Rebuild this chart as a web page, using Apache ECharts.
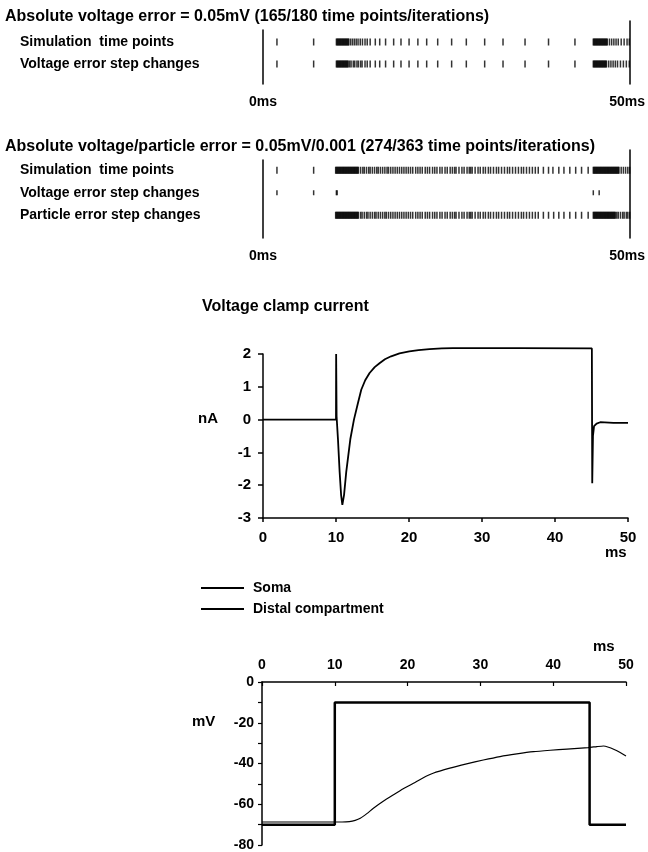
<!DOCTYPE html>
<html>
<head>
<meta charset="utf-8">
<script src="https://cdn.jsdelivr.net/npm/echarts@6/dist/echarts.min.js"></script>
<style>
  html, body { margin: 0; padding: 0; background: #fff; }
  #main { width: 648px; height: 852px; }
</style>
</head>
<body>
<div id="main"></div>
<script>
// raster 1: voltage error only
var rows1 = ['Simulation  time points', 'Voltage error step changes'];
var blk1Sim = [1.9, 6.9,
  10.0, 10.1, 10.2, 10.3, 10.4, 10.5, 10.6, 10.7, 10.8, 10.9, 11.0, 11.1, 11.2, 11.3, 11.4, 11.5, 11.6, 11.7,
  11.95, 12.2, 12.45, 12.7, 12.95, 13.25, 13.55, 13.9, 14.2,
  14.6, 15.3, 15.9, 16.7, 17.8, 18.8, 19.9, 21.1, 22.3, 23.8, 25.7, 27.7, 30.2, 32.7, 35.7, 38.9, 42.5,
  45.0, 45.1, 45.2, 45.3, 45.4, 45.5, 45.6, 45.7, 45.8, 45.9, 46.0, 46.1, 46.2, 46.3, 46.4, 46.5, 46.6, 46.7, 46.8, 46.9,
  47.2, 47.5, 47.8, 48.1, 48.4, 48.8, 49.2, 49.6, 49.9];
var blk1Volt = [1.9, 6.9,
  10.0, 10.1, 10.2, 10.3, 10.4, 10.5, 10.6, 10.7, 10.8, 10.9, 11.0, 11.1, 11.2, 11.3, 11.4, 11.5, 11.6, 11.8,
  12.0, 12.3, 12.5, 12.8, 13.0, 13.3, 13.5, 13.9, 14.2,
  14.6, 15.3, 15.9, 16.7, 17.8, 18.8, 19.9, 21.1, 22.3, 23.8, 25.7, 27.7, 30.2, 32.7, 35.7, 38.9, 42.5,
  45.0, 45.1, 45.2, 45.3, 45.4, 45.5, 45.6, 45.7, 45.8, 45.9, 46.0, 46.1, 46.2, 46.3, 46.4, 46.5, 46.6, 46.7, 46.8,
  47.1, 47.4, 47.7, 48.0, 48.3, 48.7, 49.1, 49.5, 49.9];

// raster 2: voltage + particle error
var rows2 = ['Simulation  time points', 'Voltage error step changes', 'Particle error step changes'];
var blk2Sim = [1.9, 6.9,
  9.9, 10.0, 10.1, 10.2, 10.3, 10.4, 10.5, 10.6, 10.7, 10.8, 10.9, 11.0, 11.1, 11.2, 11.3, 11.4, 11.5, 11.6,
  11.7, 11.8, 11.9, 12.0, 12.1, 12.2, 12.3, 12.4, 12.5, 12.6, 12.7, 12.8, 12.9, 13.0,
  13.3, 13.6, 13.8, 14.1, 14.4, 14.6, 14.9, 15.2, 15.5, 15.7, 16.0, 16.3, 16.6, 16.9, 17.1, 17.4, 17.7,
  18.0, 18.3, 18.6, 18.9, 19.2, 19.5, 19.8, 20.1, 20.4, 20.8, 21.1, 21.4, 21.7, 22.1, 22.4, 22.7, 23.1,
  23.4, 23.7, 24.1, 24.4, 24.8, 25.1, 25.5, 25.8, 26.1, 26.3, 26.7, 27.1, 27.4, 27.8, 28.1, 28.3, 28.5,
  28.9, 29.3, 29.6, 30.0, 30.3, 30.7, 31.0, 31.4, 31.8, 32.1, 32.5, 32.9, 33.3, 33.6, 34.0, 34.4, 34.8,
  35.2, 35.5, 35.9, 36.3, 36.7, 37.1, 37.5,
  38.2, 38.9, 39.5, 40.3, 41.0, 41.8, 42.6, 43.4, 44.3,
  45.0, 45.1, 45.2, 45.3, 45.4, 45.5, 45.6, 45.7, 45.8, 45.9, 46.0, 46.1, 46.2, 46.3, 46.4, 46.5, 46.6, 46.7,
  46.8, 46.9, 47.0, 47.1, 47.2, 47.3, 47.4, 47.5, 47.6, 47.7, 47.8, 47.9, 48.0, 48.1, 48.2, 48.3, 48.4, 48.5,
  48.8, 49.1, 49.4, 49.7, 49.95];
var blk2Volt = [1.9, 6.9, 10.0, 10.1, 45.0, 45.8];
var blk2Part = [
  9.9, 10.0, 10.1, 10.2, 10.3, 10.4, 10.5, 10.6, 10.7, 10.8, 10.9, 11.0, 11.1, 11.2, 11.3, 11.4, 11.5, 11.6,
  11.7, 11.8, 11.9, 12.0, 12.1, 12.2, 12.3, 12.4, 12.5, 12.6, 12.7, 12.8, 12.9, 13.0,
  13.3, 13.5, 13.8, 14.1, 14.3, 14.6, 14.9, 15.2, 15.4, 15.7, 16.0, 16.3, 16.6, 16.8, 17.1, 17.4, 17.7,
  18.0, 18.3, 18.6, 18.9, 19.2, 19.5, 19.8, 20.1, 20.4, 20.8, 21.1, 21.4, 21.7, 22.1, 22.4, 22.7, 23.1,
  23.4, 23.7, 24.1, 24.4, 24.8, 25.1, 25.5, 25.8, 26.1, 26.3, 26.7, 27.1, 27.4, 27.8, 28.1, 28.3, 28.5,
  28.9, 29.3, 29.6, 30.0, 30.3, 30.7, 31.0, 31.4, 31.8, 32.1, 32.5, 32.9, 33.3, 33.6, 34.0, 34.4, 34.8,
  35.2, 35.5, 35.9, 36.3, 36.7, 37.1, 37.5,
  38.2, 38.9, 39.6, 40.3, 41.0, 41.8, 42.6, 43.4, 44.3,
  45.0, 45.1, 45.2, 45.3, 45.4, 45.5, 45.6, 45.7, 45.8, 45.9, 46.0, 46.1, 46.2, 46.3, 46.4, 46.5, 46.6, 46.7,
  46.8, 46.9, 47.0, 47.1, 47.2, 47.3, 47.4, 47.5, 47.6, 47.7, 47.8, 47.9, 48.0, 48.2, 48.4,
  48.7, 49.0, 49.2, 49.5, 49.7, 49.95];

// voltage clamp current (nA)
var clampT = [0, 10, 10.02, 10.08, 10.27, 10.5, 10.7, 10.87, 11.1, 11.4, 11.96, 12.46, 13.0, 13.46, 14.0, 14.6,
  15.3, 15.96, 16.7, 17.55, 18.7, 20.05, 21.3, 22.8, 24.5, 26, 35, 45.05, 45.1, 45.2, 45.35, 45.7, 46.2, 48, 50];
var clampI = [0, 0, 2.0, 0.1, -0.6, -1.6, -2.3, -2.6, -2.3, -1.6, -0.6, 0.0, 0.5, 0.91, 1.2, 1.42,
  1.6, 1.72, 1.84, 1.93, 2.02, 2.08, 2.12, 2.15, 2.17, 2.18, 2.18, 2.17, -1.94, -0.5, -0.2, -0.12, -0.08, -0.1, -0.1];

// membrane potential (mV)
var somaT = [0, 10, 10, 45, 45, 50];
var somaV = [-70, -70, -10, -10, -70, -70];
var distalT = [0, 11, 12, 12.8, 13.5, 14.4, 15.3, 16.6, 18, 19.4, 20.8, 22.1, 23.5, 25.8, 28.1, 30.4, 32.7, 35,
  37.3, 39.6, 41.9, 44.8, 46, 46.9, 47.6, 48.3, 49.2, 50];
var distalV = [-68.7, -68.7, -68.5, -67.9, -66.9, -64.6, -62, -58.7, -55.5, -52.4, -49.7, -47.1, -44.8, -42.3,
  -40.2, -38.3, -36.6, -35.3, -34.2, -33.5, -32.9, -32.2, -31.7, -31.4, -32.0, -33.0, -34.6, -36.3];

var FONT = '"Liberation Sans", Arial, sans-serif';
function txt(size) {
  return { color: '#000', fontWeight: 'bold', fontSize: size, fontFamily: FONT };
}
var lab = txt(14);
var blackLine = { onZero: false, lineStyle: { color: '#000', width: 1.5 } };

function pair(xs, ys) {
  return xs.map(function (x, i) { return [x, ys[i]]; });
}
function rasterData(ts, row) {
  return ts.map(function (t) { return [t, row]; });
}

var chart = echarts.init(document.getElementById('main'));

function hiddenX(grid) {
  return { gridIndex: grid, type: 'value', min: 0, max: 50, show: false };
}
function msX(grid) {
  return {
    gridIndex: grid, type: 'value', min: 0, max: 50, interval: 50,
    axisLine: { show: false }, axisTick: { show: false }, splitLine: { show: false },
    axisLabel: Object.assign({ formatter: '{value}ms', margin: 11 }, lab)
  };
}
function lineY(grid, pos) {
  return {
    gridIndex: grid, type: 'value', min: 0, max: 1, position: pos,
    axisLine: { show: true, onZero: false, lineStyle: { color: '#000', width: 1.5 } },
    axisTick: { show: false }, axisLabel: { show: false }, splitLine: { show: false }
  };
}
function rowY(grid, names) {
  return {
    gridIndex: grid, type: 'category', data: names, inverse: true,
    axisLine: { show: false }, axisTick: { show: false }, splitLine: { show: false },
    axisLabel: Object.assign({ align: 'left', margin: 243 }, lab)
  };
}
function raster(xi, yi, ts, row, h) {
  return {
    type: 'scatter', xAxisIndex: xi, yAxisIndex: yi, symbol: 'rect', symbolSize: [1.5, h],
    itemStyle: { color: '#000' }, silent: true, data: rasterData(ts, row)
  };
}

chart.setOption({
  animation: false,
  backgroundColor: '#fff',
  title: [
    { text: 'Absolute voltage error = 0.05mV (165/180 time points/iterations)', left: 5, top: 9, size: 16 },
    { text: 'Absolute voltage/particle error = 0.05mV/0.001 (274/363 time points/iterations)', left: 5, top: 139, size: 16 },
    { text: 'Voltage clamp current', left: 202, top: 299, size: 16 },
    { text: 'nA', left: 198, top: 411, size: 15 },
    { text: 'ms', left: 605, top: 545, size: 15 },
    { text: 'mV', left: 192, top: 714, size: 15 },
    { text: 'ms', left: 593, top: 639, size: 15 }
  ].map(function (t) {
    t.padding = 0;
    t.textStyle = txt(t.size);
    delete t.size;
    return t;
  }),
  legend: {
    left: 200, top: 581, orient: 'vertical', itemWidth: 43, itemHeight: 10, itemGap: 7,
    padding: 0, selectedMode: false,
    itemStyle: { opacity: 0 },
    textStyle: Object.assign({ padding: [0, 0, 0, 4] }, lab),
    data: ['Soma', 'Distal compartment']
  },
  grid: [
    { left: 263, width: 367, top: 31, height: 44 },
    { left: 263, width: 367, top: 30, height: 54 },
    { left: 263, width: 367, top: 21, height: 63 },
    { left: 263, width: 367, top: 159, height: 67.5 },
    { left: 263, width: 367, top: 160, height: 78 },
    { left: 263, width: 367, top: 150, height: 88 },
    { left: 263, width: 365, top: 354, height: 164 },
    { left: 262, width: 364, top: 682, height: 163 }
  ],
  xAxis: [
    hiddenX(0), msX(1), hiddenX(2), hiddenX(3), msX(4), hiddenX(5),
    {
      gridIndex: 6, type: 'value', min: 0, max: 50, interval: 10,
      axisLine: blackLine, axisTick: { length: 4, lineStyle: { color: '#000', width: 1.5 } },
      splitLine: { show: false }, axisLabel: Object.assign({ margin: 12 }, txt(15))
    },
    {
      gridIndex: 7, type: 'value', min: 0, max: 50, interval: 10, position: 'top',
      axisLine: blackLine, axisTick: { inside: true, length: 4, lineStyle: { color: '#000', width: 1.2 } },
      splitLine: { show: false }, axisLabel: Object.assign({ margin: 10 }, lab)
    }
  ],
  yAxis: [
    rowY(0, rows1), lineY(1, 'left'), lineY(2, 'right'),
    rowY(3, rows2), lineY(4, 'left'), lineY(5, 'right'),
    {
      gridIndex: 6, type: 'value', min: -3, max: 2, interval: 1,
      axisLine: blackLine, axisTick: { length: 5, lineStyle: { color: '#000', width: 1.5 } },
      splitLine: { show: false }, axisLabel: Object.assign({ margin: 12 }, txt(15))
    },
    {
      gridIndex: 7, type: 'value', min: -80, max: 0, interval: 20,
      axisLine: blackLine, axisTick: { length: 4, lineStyle: { color: '#000', width: 1.2 } },
      minorTick: { show: true, splitNumber: 2, length: 4, lineStyle: { color: '#000', width: 1.2 } },
      splitLine: { show: false }, axisLabel: Object.assign({ margin: 8 }, lab)
    }
  ],
  series: [
    raster(0, 0, blk1Sim, 0, 7),
    raster(0, 0, blk1Volt, 1, 7),
    raster(3, 3, blk2Sim, 0, 7),
    raster(3, 3, blk2Volt, 1, 5),
    raster(3, 3, blk2Part, 2, 7),
    {
      name: 'Soma', type: 'line', xAxisIndex: 6, yAxisIndex: 6, symbol: 'none', clip: false,
      lineStyle: { color: '#000', width: 1.8 }, itemStyle: { color: '#000' },
      data: pair(clampT, clampI)
    },
    {
      name: 'Soma', type: 'line', xAxisIndex: 7, yAxisIndex: 7, symbol: 'none',
      lineStyle: { color: '#000', width: 2.5 }, itemStyle: { color: '#000' },
      data: pair(somaT, somaV)
    },
    {
      name: 'Distal compartment', type: 'line', xAxisIndex: 7, yAxisIndex: 7, symbol: 'none',
      smooth: 0.2, lineStyle: { color: '#000', width: 1.2 }, itemStyle: { color: '#000' },
      data: pair(distalT, distalV)
    }
  ]
});
</script>
</body>
</html>
